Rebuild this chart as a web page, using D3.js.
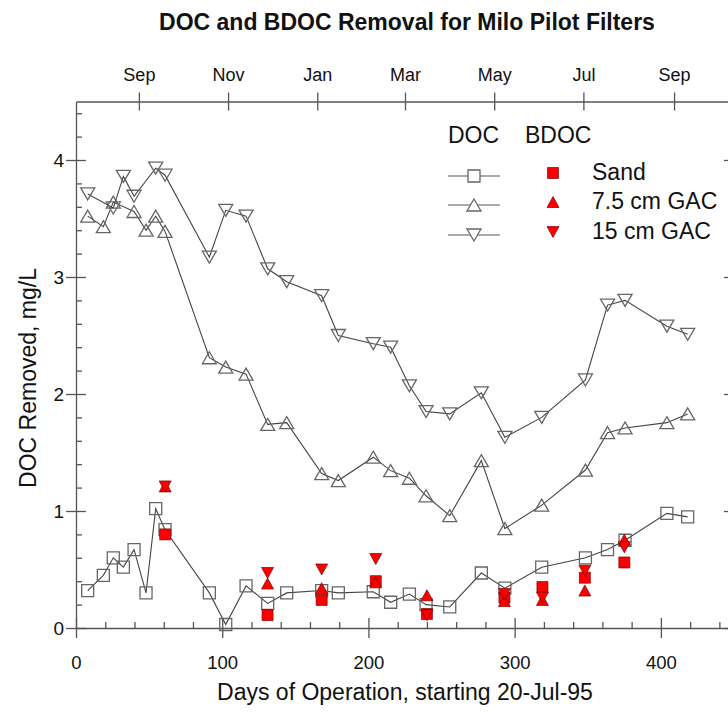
<!DOCTYPE html>
<html><head><meta charset="utf-8">
<script src="https://cdn.jsdelivr.net/npm/d3@7"></script>
<style>
body{margin:0;background:#fff;}
text{font-family:"Liberation Sans",Arial,Helvetica,sans-serif;fill:#111;}
</style>
</head><body>
<svg id="chart" width="728" height="713"></svg>
<script>
// ---------------- DATA ----------------
const sandDocDays = [8, 18.7, 25.5, 32.4, 39.7, 47.9, 54.5, 60.9, 91.2, 102.4, 116.3, 131.1, 144.1, 168, 179.4, 203.3, 215.2, 228, 239.4, 255.6, 277.2, 293.3, 318.5, 348.4, 363.5, 375.5, 404.1, 418.3];
const sandDoc     = [0.32, 0.45, 0.60, 0.52, 0.67, 0.30, 1.02, 0.84, 0.30, 0.03, 0.36, 0.21, 0.30, 0.32, 0.30, 0.31, 0.22, 0.29, 0.20, 0.18, 0.47, 0.34, 0.52, 0.60, 0.67, 0.75, 0.98, 0.95];

const gac75DocDays = [8, 18.7, 25.5, 39.7, 47.9, 54.5, 60.9, 91.2, 102.4, 116.3, 131.1, 144.1, 168, 179.4, 203.3, 215.2, 228, 239.4, 255.6, 277.2, 293.3, 318.5, 348.4, 363.5, 375.5, 404.1, 418.3];
const gac75Doc     = [3.52, 3.43, 3.64, 3.56, 3.40, 3.52, 3.39, 2.31, 2.23, 2.17, 1.74, 1.755, 1.32, 1.26, 1.46, 1.345, 1.28, 1.13, 0.96, 1.43, 0.85, 1.05, 1.35, 1.67, 1.71, 1.755, 1.83];

const gac15DocDays = [8, 25.5, 32.4, 39.7, 54.5, 60.9, 91.2, 102.4, 116.3, 131.1, 144.1, 168, 179.4, 203.3, 215.2, 228, 239.4, 255.6, 277.2, 293.3, 318.5, 348.4, 363.5, 375.5, 404.1, 418.3];
const gac15Doc     = [3.71, 3.59, 3.86, 3.69, 3.93, 3.87, 3.17, 3.57, 3.52, 3.07, 2.96, 2.84, 2.50, 2.43, 2.40, 2.07, 1.85, 1.83, 2.01, 1.63, 1.80, 2.12, 2.76, 2.80, 2.58, 2.51];

const bdocDays     = [61, 131, 168, 205, 240, 293, 319, 348, 375];
const sandBdoc     = [0.80, 0.11, 0.24, 0.40, 0.12, 0.26, 0.35, 0.43, 0.56];
const gac75Bdoc    = [1.21, 0.38, 0.34, 0.39, 0.28, 0.23, 0.24, 0.32, 0.755];
const gac15Bdoc    = [1.21, 0.47, 0.50, 0.59, 0.11, 0.29, 0.26, 0.49, 0.69];

const xTicks = [0, 100, 200, 300, 400];
const yTicks = [0, 1, 2, 3, 4];
const monthLabels = ["Sep", "Nov", "Jan", "Mar", "May", "Jul", "Sep"];
const monthDates  = [[1995,8,1],[1995,10,1],[1996,0,1],[1996,2,1],[1996,4,1],[1996,6,1],[1996,8,1]];
const legendNames = ["Sand", "7.5 cm GAC", "15 cm GAC"];

const titleText = "DOC and BDOC Removal for Milo Pilot Filters";
const xTitle = "Days of Operation, starting 20-Jul-95";
const yTitle = "DOC Removed, mg/L";

// ---------------- CHART ----------------
const svg = d3.select("#chart");
const L = 76, R = 734, T = 101.5, B = 628;
const x = d3.scaleLinear().domain([0, 450]).range([L, R]);
const y = d3.scaleLinear().domain([0, 4.5]).range([B, T]);
const start = Date.UTC(1995, 6, 20);
const xt = d3.scaleUtc().domain([new Date(start), new Date(start + 450 * 864e5)]).range([L, R]);

const axisColor = "#555";
function styleAxis(g) {
  g.select(".domain").attr("stroke", axisColor).attr("stroke-width", 1.3);
  g.selectAll(".tick line").attr("stroke", axisColor).attr("stroke-width", 1.3);
}

// minor ticks
const minorX = d3.range(0, 451, 20).filter(v => v % 100 !== 0);
const minorY = d3.range(0, 4.51, 0.2).map(v => +v.toFixed(1)).filter(v => Math.abs(v - Math.round(v)) > 1e-6);

// bottom axis
const gB = svg.append("g").attr("transform", `translate(0,${B})`)
  .call(d3.axisBottom(x).tickValues(xTicks).tickSize(0).tickPadding(0).tickFormat(d3.format("d")));
gB.selectAll(".tick line").attr("y1", -10).attr("y2", 10);
gB.selectAll(".tick text").attr("y", 41).attr("dy", 0).attr("font-size", 18.5).attr("font-family", null);
styleAxis(gB);
svg.append("g").attr("transform", `translate(0,${B})`)
  .call(d3.axisBottom(x).tickValues(minorX).tickSize(-6).tickFormat(""))
  .call(g => { g.select(".domain").remove(); styleAxis(g); });

// top axis
const gT = svg.append("g").attr("transform", `translate(0,${T})`)
  .call(d3.axisTop(xt).tickValues(monthDates.map(d => new Date(Date.UTC(d[0], d[1], d[2]))))
    .tickSize(0).tickFormat((d, i) => monthLabels[i]));
gT.selectAll(".tick line").attr("y1", -9).attr("y2", 9);
gT.selectAll(".tick text").attr("y", -21).attr("dy", 0).attr("font-size", 18).attr("font-family", null);
styleAxis(gT);

// left axis
const gL = svg.append("g").attr("transform", `translate(${L},0)`)
  .call(d3.axisLeft(y).tickValues(yTicks).tickSize(0).tickFormat(d3.format("d")));
gL.selectAll(".tick line").attr("x1", -10).attr("x2", 10);
gL.selectAll(".tick text").attr("x", -12).attr("dy", "0.35em").attr("font-size", 19).attr("font-family", null);
styleAxis(gL);
svg.append("g").attr("transform", `translate(${L},0)`)
  .call(d3.axisLeft(y).tickValues(minorY).tickSize(-6).tickFormat(""))
  .call(g => { g.select(".domain").remove(); styleAxis(g); });

// right axis
const gR = svg.append("g").attr("transform", `translate(${R},0)`)
  .call(d3.axisRight(y).tickValues(yTicks).tickSize(0).tickFormat(""));
gR.selectAll(".tick line").attr("x1", -10).attr("x2", 10);
styleAxis(gR);
svg.append("g").attr("transform", `translate(${R},0)`)
  .call(d3.axisRight(y).tickValues(minorY).tickSize(-6).tickFormat(""))
  .call(g => { g.select(".domain").remove(); styleAxis(g); });

// symbols
function triUp(w, h) { return `M0,${-h/2}L${w/2},${h/2}L${-w/2},${h/2}Z`; }
function triDown(w, h) { return `M0,${h/2}L${w/2},${-h/2}L${-w/2},${-h/2}Z`; }
function square(s) { return `M${-s/2},${-s/2}h${s}v${s}h${-s}Z`; }

const lineGen = d3.line().x(d => x(d[0])).y(d => y(d[1]));
const docSeries = [
  {days: sandDocDays, vals: sandDoc, shape: square(12)},
  {days: gac75DocDays, vals: gac75Doc, shape: triUp(14, 12)},
  {days: gac15DocDays, vals: gac15Doc, shape: triDown(14, 12)}
];
docSeries.forEach(s => {
  const pts = s.days.map((d, i) => [d, s.vals[i]]);
  svg.append("path").attr("d", lineGen(pts)).attr("fill", "none")
    .attr("stroke", "#444").attr("stroke-width", 1.1);
  svg.append("g").selectAll("path").data(pts).join("path")
    .attr("transform", d => `translate(${x(d[0])},${y(d[1])})`)
    .attr("d", s.shape).attr("fill", "none").attr("stroke", "#666").attr("stroke-width", 1.3);
});

const bdocSeries = [
  {vals: sandBdoc, shape: square(11)},
  {vals: gac75Bdoc, shape: triUp(12, 11)},
  {vals: gac15Bdoc, shape: triDown(12, 11)}
];
bdocSeries.forEach(s => {
  svg.append("g").selectAll("path").data(s.vals).join("path")
    .attr("transform", (v, i) => `translate(${x(bdocDays[i])},${y(v)})`)
    .attr("d", s.shape).attr("fill", "#ff0000").attr("stroke", "#7a0000").attr("stroke-width", 0.7);
});

// legend
svg.append("text").attr("x", 448).attr("y", 143).attr("font-size", 23).text("DOC");
svg.append("text").attr("x", 525).attr("y", 143).attr("font-size", 23).text("BDOC");
const rowsY = [176, 205, 235];
legendNames.forEach((name, i) => {
  const yy = rowsY[i];
  svg.append("line").attr("x1", 448).attr("x2", 500).attr("y1", yy).attr("y2", yy)
    .attr("stroke", "#555").attr("stroke-width", 1.1);
  svg.append("path").attr("transform", `translate(474,${yy})`).attr("d", docSeries[i].shape)
    .attr("fill", "#fff").attr("stroke", "#666").attr("stroke-width", 1.3);
  svg.append("path").attr("transform", `translate(553,${yy - 3})`).attr("d", bdocSeries[i].shape)
    .attr("fill", "#ff0000").attr("stroke", "#7a0000").attr("stroke-width", 0.7);
  svg.append("text").attr("x", 592).attr("y", yy + 4).attr("font-size", 23).text(name);
});

// titles
svg.append("text").attr("x", 407).attr("y", 30).attr("text-anchor", "middle")
  .attr("font-size", 23).attr("font-weight", "bold").text(titleText);
svg.append("text").attr("x", 405).attr("y", 700).attr("text-anchor", "middle")
  .attr("font-size", 23).text(xTitle);
svg.append("text").attr("transform", "translate(36,378) rotate(-90)").attr("text-anchor", "middle")
  .attr("font-size", 23).text(yTitle);
</script>
</body></html>
